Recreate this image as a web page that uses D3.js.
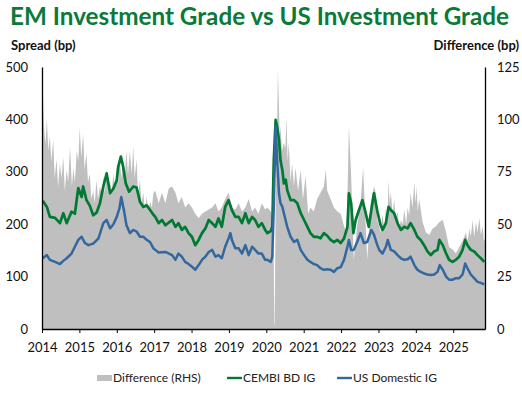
<!DOCTYPE html>
<html><head><meta charset="utf-8">
<script src="https://cdn.jsdelivr.net/npm/d3@7"></script>
<style>
html,body{margin:0;padding:0;background:#fff;}
svg{display:block;font-family:Lato,"Open Sans",sans-serif;}
</style></head>
<body>
<svg id="chart" width="522" height="397"></svg>
<script>
// ---- data (decimal years, bp) ----
const yearTicks = [2014,2015,2016,2017,2018,2019,2020,2021,2022,2023,2024,2025];
const leftTicks = [0,100,200,300,400,500];
const rightTicks = [0,25,50,75,100,125];

const cembiT = [2014.02,2014.13,2014.21,2014.35,2014.48,2014.57,2014.66,2014.79,2014.88,2014.97,2015.06,2015.10,2015.19,2015.28,2015.37,2015.46,2015.55,2015.64,2015.73,2015.82,2015.91,2016.00,2016.04,2016.11,2016.17,2016.24,2016.33,2016.44,2016.53,2016.62,2016.71,2016.80,2016.89,2016.98,2017.03,2017.12,2017.21,2017.30,2017.39,2017.48,2017.57,2017.65,2017.74,2017.83,2017.92,2018.01,2018.10,2018.19,2018.28,2018.37,2018.46,2018.55,2018.64,2018.72,2018.81,2018.90,2018.99,2019.08,2019.17,2019.26,2019.35,2019.44,2019.53,2019.62,2019.70,2019.79,2019.88,2019.97,2020.03,2020.12,2020.16,2020.20,2020.25,2020.29,2020.34,2020.38,2020.43,2020.47,2020.52,2020.56,2020.65,2020.74,2020.83,2020.92,2021.01,2021.10,2021.18,2021.27,2021.36,2021.45,2021.54,2021.63,2021.72,2021.81,2021.90,2021.99,2022.08,2022.17,2022.21,2022.27,2022.33,2022.39,2022.48,2022.57,2022.66,2022.74,2022.81,2022.88,2022.97,2023.05,2023.11,2023.20,2023.27,2023.33,2023.42,2023.51,2023.60,2023.69,2023.78,2023.86,2023.96,2024.04,2024.13,2024.22,2024.31,2024.40,2024.49,2024.58,2024.63,2024.72,2024.81,2024.89,2024.98,2025.07,2025.16,2025.25,2025.32,2025.38,2025.47,2025.56,2025.65,2025.74,2025.83];
const cembiV = [245,233,214,212,202,221,202,224,220,269,252,272,246,235,217,222,240,272,297,259,268,284,310,329,310,278,262,272,270,243,233,236,227,218,214,202,208,198,203,208,195,202,189,195,183,176,160,170,183,192,208,202,195,211,195,233,246,227,214,214,202,221,202,214,208,195,202,189,183,187,195,322,399,386,361,322,303,278,285,265,246,246,240,221,208,195,183,176,176,173,183,178,170,166,170,164,173,195,259,240,183,208,227,246,221,195,227,259,225,200,189,202,233,227,221,202,189,195,192,202,189,176,170,160,148,141,148,151,170,160,144,132,128,132,138,151,170,160,151,148,141,135,128];

const usT = [2014.02,2014.13,2014.21,2014.35,2014.48,2014.57,2014.66,2014.79,2014.88,2014.97,2015.06,2015.15,2015.24,2015.37,2015.51,2015.64,2015.73,2015.82,2015.91,2016.00,2016.07,2016.12,2016.19,2016.26,2016.35,2016.44,2016.53,2016.62,2016.71,2016.80,2016.89,2016.98,2017.03,2017.12,2017.30,2017.48,2017.57,2017.65,2017.74,2017.83,2017.92,2018.01,2018.10,2018.19,2018.28,2018.37,2018.46,2018.55,2018.64,2018.72,2018.81,2018.90,2018.99,2019.04,2019.08,2019.17,2019.26,2019.35,2019.44,2019.53,2019.62,2019.70,2019.79,2019.88,2019.97,2020.03,2020.12,2020.16,2020.20,2020.25,2020.29,2020.34,2020.38,2020.43,2020.47,2020.56,2020.65,2020.74,2020.83,2020.92,2021.01,2021.10,2021.18,2021.27,2021.36,2021.45,2021.54,2021.63,2021.72,2021.81,2021.90,2021.99,2022.08,2022.17,2022.21,2022.27,2022.34,2022.43,2022.52,2022.61,2022.70,2022.81,2022.88,2022.97,2023.02,2023.11,2023.20,2023.25,2023.33,2023.42,2023.51,2023.60,2023.69,2023.78,2023.86,2023.96,2024.04,2024.13,2024.22,2024.31,2024.40,2024.49,2024.58,2024.64,2024.72,2024.81,2024.89,2024.98,2025.07,2025.16,2025.25,2025.32,2025.38,2025.47,2025.56,2025.65,2025.74,2025.83];
const usV = [135,141,132,128,124,130,135,144,157,170,176,164,160,163,173,202,208,192,200,214,230,252,227,198,183,189,186,176,176,170,166,154,151,146,147,141,132,144,138,128,124,119,113,122,132,138,147,151,138,141,135,157,173,183,170,154,154,144,160,141,157,151,144,144,132,132,128,138,233,386,322,259,240,233,221,195,176,166,170,151,141,132,128,124,122,116,113,114,113,109,116,118,132,157,170,151,151,166,183,164,166,189,180,160,151,144,157,170,151,148,141,135,132,133,138,122,113,109,106,104,103,104,109,122,113,100,94,94,97,97,104,125,116,104,97,90,88,85];

const diffT = [2014.00,2014.02,2014.05,2014.09,2014.13,2014.17,2014.21,2014.25,2014.30,2014.34,2014.39,2014.43,2014.48,2014.52,2014.57,2014.61,2014.66,2014.70,2014.75,2014.80,2014.84,2014.88,2014.93,2014.97,2015.01,2015.05,2015.10,2015.14,2015.19,2015.23,2015.28,2015.32,2015.37,2015.41,2015.46,2015.50,2015.55,2015.60,2015.64,2015.68,2015.73,2015.77,2015.82,2015.86,2015.91,2015.95,2016.00,2016.04,2016.08,2016.12,2016.17,2016.21,2016.26,2016.30,2016.35,2016.40,2016.44,2016.48,2016.53,2016.57,2016.62,2016.66,2016.71,2016.75,2016.80,2016.85,2016.89,2016.94,2016.98,2017.03,2017.12,2017.21,2017.30,2017.39,2017.48,2017.57,2017.65,2017.74,2017.83,2017.92,2018.01,2018.10,2018.19,2018.28,2018.37,2018.46,2018.55,2018.64,2018.72,2018.81,2018.90,2018.99,2019.08,2019.17,2019.26,2019.35,2019.44,2019.53,2019.62,2019.70,2019.79,2019.88,2019.97,2020.03,2020.12,2020.19,2020.215,2020.225,2020.25,2020.28,2020.31,2020.34,2020.36,2020.38,2020.42,2020.47,2020.51,2020.54,2020.57,2020.60,2020.65,2020.69,2020.74,2020.78,2020.85,2020.92,2020.98,2021.05,2021.12,2021.18,2021.27,2021.36,2021.45,2021.54,2021.59,2021.63,2021.72,2021.81,2021.90,2021.99,2022.08,2022.15,2022.21,2022.27,2022.34,2022.43,2022.52,2022.59,2022.66,2022.70,2022.79,2022.88,2022.93,2022.97,2023.02,2023.06,2023.11,2023.15,2023.20,2023.24,2023.27,2023.30,2023.33,2023.38,2023.42,2023.46,2023.51,2023.56,2023.60,2023.65,2023.69,2023.74,2023.78,2023.82,2023.86,2023.91,2023.96,2023.99,2024.02,2024.05,2024.09,2024.18,2024.27,2024.36,2024.45,2024.54,2024.63,2024.72,2024.81,2024.89,2024.98,2025.07,2025.16,2025.25,2025.34,2025.39,2025.43,2025.47,2025.52,2025.56,2025.61,2025.65,2025.70,2025.74,2025.79,2025.82,2025.85];
const diffV = [100,114,98,88,100,85,92,80,90,72,81,68,79,72,82,66,76,70,87,68,77,70,85,80,96,82,93,76,84,70,74,62,66,60,71,62,68,64,73,65,76,64,71,64,74,67,77,70,81,72,80,72,85,74,85,74,87,72,81,64,71,60,65,57,63,56,61,58,65,66,60,65,60,67,68,65,60,63,58,60,58,55,53,55,56,57,58,60,56,58,62,65,58,57,60,56,58,62,56,58,55,60,57,58,56,50,2,2,60,85,124,105,90,97,85,89,86,101,80,89,70,79,68,77,66,76,62,73,55,58,56,62,65,68,76,66,62,58,56,55,49,46,97,73,33,49,60,77,49,33,60,68,65,52,49,46,55,48,58,52,71,60,65,55,62,52,56,48,52,50,57,50,58,54,65,58,70,60,68,56,62,51,46,45,48,49,51,52,46,39,38,36,39,42,46,42,48,44,52,44,51,46,53,45,49,42,43];

// ---- layout ----
const svg = d3.select("#chart");
const L = 42, R = 485, T = 67, B = 329;
const x = d3.scaleLinear().domain([2014, 2025.85]).range([L, R]);
const yL = d3.scaleLinear().domain([0, 500]).range([B, T]);
const yR = d3.scaleLinear().domain([0, 125]).range([B, T]);

const green = "#007A33", blue = "#33689E", grey = "#BFBFBF";

// title
svg.append("text").attr("x", 10).attr("y", 25)
  .attr("font-size", 24).attr("font-weight", 700).attr("fill", "#0B7A38")
  .attr("textLength", 499).attr("lengthAdjust", "spacingAndGlyphs")
  .text("EM Investment Grade vs US Investment Grade");

svg.append("text").attr("x", 11).attr("y", 50).attr("font-size", 13).attr("font-weight", 700)
  .attr("fill", "#111").text("Spread (bp)");
svg.append("text").attr("x", 519).attr("y", 50).attr("font-size", 13).attr("font-weight", 700)
  .attr("fill", "#111").attr("text-anchor", "end").text("Difference (bp)");

// difference area
const diffData = diffT.map((t, i) => ({t, v: diffV[i]}));
svg.append("path").datum(diffData)
  .attr("fill", grey)
  .attr("d", d3.area().x(d => x(d.t)).y0(yR(0)).y1(d => yR(d.v)));

// lines
const cembiData = cembiT.map((t, i) => ({t, v: cembiV[i]}));
const usData = usT.map((t, i) => ({t, v: usV[i]}));
const line = d3.line().x(d => x(d.t)).y(d => yL(d.v));
svg.append("path").datum(cembiData).attr("fill", "none").attr("stroke", green)
  .attr("stroke-width", 2.7).attr("stroke-linejoin", "round").attr("d", line);
svg.append("path").datum(usData).attr("fill", "none").attr("stroke", blue)
  .attr("stroke-width", 2.5).attr("stroke-linejoin", "round").attr("d", line);

// axes
const gx = svg.append("g").attr("transform", `translate(0,${B})`)
  .call(d3.axisBottom(x).tickValues(yearTicks).tickFormat(d3.format("d")).tickSize(4).tickSizeOuter(0));
const gl = svg.append("g").attr("transform", `translate(${L},0)`)
  .call(d3.axisLeft(yL).tickValues(leftTicks).tickSize(0).tickPadding(14).tickSizeOuter(0));
const gr = svg.append("g").attr("transform", `translate(${R},0)`)
  .call(d3.axisRight(yR).tickValues(rightTicks).tickSize(0).tickPadding(12).tickSizeOuter(0));
[gx, gl, gr].forEach(g => {
  g.selectAll("path.domain").attr("stroke", "#000").attr("stroke-width", 1.3);
  g.selectAll("line").attr("stroke", "#000");
  g.selectAll("text").attr("font-size", 13).attr("fill", "#111")
    .attr("font-family", "Lato, 'Open Sans', sans-serif");
});
gx.selectAll("text").attr("dy", "1.2em");

// legend
const lg = svg.append("g").attr("font-size", 12).attr("fill", "#222");
lg.append("rect").attr("x", 97).attr("y", 375).attr("width", 15).attr("height", 6).attr("fill", grey);
lg.append("text").attr("x", 113).attr("y", 382).text("Difference (RHS)");
lg.append("line").attr("x1", 227).attr("x2", 242).attr("y1", 378).attr("y2", 378)
  .attr("stroke", green).attr("stroke-width", 2.4);
lg.append("text").attr("x", 243).attr("y", 382).text("CEMBI BD IG");
lg.append("line").attr("x1", 337).attr("x2", 352).attr("y1", 378).attr("y2", 378)
  .attr("stroke", blue).attr("stroke-width", 2.4);
lg.append("text").attr("x", 353).attr("y", 382).text("US Domestic IG");
</script>
</body></html>
